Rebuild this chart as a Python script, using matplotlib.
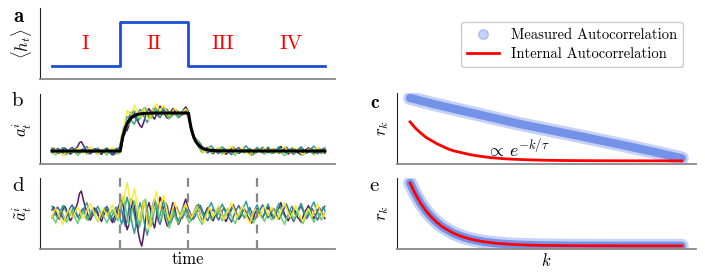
import numpy as np
import matplotlib
matplotlib.use("Agg")
import matplotlib.pyplot as plt
from matplotlib.lines import Line2D

plt.rcParams['font.family'] = 'serif'
plt.rcParams['font.serif'] = ['cmr10', 'DejaVu Serif']
plt.rcParams['mathtext.fontset'] = 'cm'
plt.rcParams['axes.unicode_minus'] = False

# panel a: input drive, four regions
step_t = [0.0, 0.25, 0.25, 0.5, 0.5, 1.0]
step_h = [0, 0, 1, 1, 0, 0]
region_names = ['I', 'II', 'III', 'IV']
region_pos = [0.12, 0.375, 0.625, 0.875]
region_edges = [0.25, 0.5, 0.75]

# panel b: mean activity (black)
mean_t = [0.0, 0.25, 0.255, 0.26, 0.265, 0.27, 0.275, 0.28, 0.29, 0.30, 0.31, 0.32, 0.34, 0.37, 0.5,
          0.505, 0.51, 0.515, 0.52, 0.525, 0.53, 0.54, 0.55, 0.56, 0.57, 0.59, 0.62, 1.0]
mean_a = [0.0, 0.0, 0.22, 0.40, 0.53, 0.64, 0.72, 0.78, 0.87, 0.92, 0.955, 0.975, 0.99, 1.0, 1.0,
          0.78, 0.60, 0.47, 0.36, 0.28, 0.22, 0.13, 0.08, 0.05, 0.03, 0.012, 0.004, 0.0]

# fluctuations of five units (x0.01), 150 time steps
fluct_purple = [10, 18, 5, -8, -15, -5, 12, 20, 8, -6, -20, -12, 4, 15, 30, 55, 62, 40, 20, 5, -10, -18, -5, 8, 14, 2, -12, -22, -8, 6,
                12, -4, -15, -25, -10, 5, 15, 25, 40, 18, -20, -45, -30, 10, 35, 20, -15, -50, -75, -90, -60, -20, 15, 30, 5, -25, -40, -10, 20, 45,
                30, 5, -20, -35, -15, 10, 30, 15, -10, -30, -20, 5, 25, 40, 20, -5, -15, -8, 10, 22, 12, -5, -18, -10, 6, 16, 4, -12, -20, -6,
                8, 18, 10, -4, -14, -22, -10, 6, 14, 24, 10, -6, -16, -8, 4, 12, 2, -10, -18, -26, -12, 4, 14, 8, -4, -12, 0, 10, 18, 6,
                -6, -14, -4, 8, 16, 30, 12, -2, -12, -20, -8, 6, 14, 4, -10, -16, -24, -10, 4, 12, 22, 10, -4, -14, -6, 8, 16, 4, -8, -14]
fluct_blue = [-12, -4, 8, 18, 10, -2, -14, -20, -8, 6, 16, 24, 12, 0, -10, -4, 8, 14, 2, -12, -18, -6, 6, 16, 8, -4, -14, -8, 4, 12,
              20, 8, -6, -16, -24, -10, 4, 30, 10, -15, -35, -20, 15, 40, 25, -5, -30, -45, -20, 10, 35, 20, -10, -30, -15, 15, 30, 10, -20, -30,
              -10, 15, 30, 20, -5, -25, -10, 10, 18, 6, -8, -14, -4, 10, 18, 8, -6, -16, -10, 4, 14, 22, 10, -2, -12, -20, -8, 6, 12, 2,
              -10, -18, -6, 8, 16, 6, -6, -14, -24, -10, 4, 14, 22, 10, -2, -10, -4, 8, 16, 4, -8, -16, -6, 6, 14, 24, 12, -2, -12, -4,
              6, 14, 4, -8, -16, -6, 6, 16, 26, 12, -2, -14, -22, -10, 2, 12, 20, 8, -4, -14, -6, 6, 14, 4, -8, -18, -8, 4, 12, 20]
fluct_teal = [20, 10, -4, -12, -2, 12, 22, 14, 2, -10, -4, 10, 18, 6, -8, -16, -6, 8, 20, 30, 14, 2, -8, -2, 10, 20, 8, -4, 6, 16,
              6, -6, -14, -4, 8, 18, 10, -10, -30, -10, 20, 45, 25, -5, -35, -55, -25, 5, 30, 15, -15, -40, -60, -35, 0, 25, 40, 15, -15, -5,
              20, 35, 10, -15, -30, -10, 15, 5, -12, -20, -6, 10, 22, 12, -2, -12, -20, -8, 6, 16, 26, 14, 0, -10, -2, 12, 20, 30, 16, 4,
              -6, 4, 16, 26, 12, 0, -10, -4, 10, 20, 8, -6, -14, -2, 10, 22, 34, 16, 2, -8, 2, 14, 24, 10, -4, -12, 0, 14, 26, 12,
              0, -10, 4, 18, 28, 14, 2, -8, -16, -4, 10, 20, 8, -4, 6, 18, 28, 14, 0, -10, -2, 10, 22, 32, 16, 4, -6, 6, 18, 8]
fluct_green = [-6, -16, -26, -12, 2, 10, -2, -14, -24, -12, 0, 8, -4, -16, -28, -14, -2, 6, -6, -18, -10, 2, 12, 0, -12, -22, -10, 2, -6, -16,
               -26, -12, 0, 10, 0, -12, -20, -5, 25, 45, 20, -10, -30, -15, 15, 35, 10, -20, -35, -10, 20, 40, 15, -15, -35, -20, 10, 30, 5, -20,
               -10, 10, -5, -25, -40, -20, 5, -8, -18, -28, -14, -2, 8, -4, -16, -26, -14, -2, 10, 0, -12, -22, -30, -16, -4, 6, -6, -18, -10, 2,
               12, 2, -10, -20, -8, 4, 14, 4, -8, -18, -28, -14, -2, 8, -4, -14, -6, 6, -4, -16, -26, -12, 0, 10, 0, -12, -22, -10, 2, -8,
               -18, -8, 4, 14, 2, -10, -20, -30, -16, -4, 6, -4, -16, -8, 4, -6, -18, -28, -14, -2, 8, -2, -14, -24, -10, 2, -6, -18, -8, 4]
fluct_yellow = [-10, 4, 14, 4, -8, -18, -30, -14, 0, 10, 2, -10, -4, 8, 18, 8, -4, -14, -6, 6, 16, 28, 14, 2, -10, -20, -8, 4, 14, 4,
                -8, 2, 14, 24, 10, -4, -12, 20, 50, 30, 60, 85, 55, 25, 45, 70, 40, 10, -20, 5, 35, 15, -25, -45, -15, 20, 40, 60, 35, 10,
                35, 50, 25, 0, -20, -5, 15, 30, 14, 2, -10, 4, 16, 26, 12, 0, -12, -4, 8, 20, 10, -4, -14, -24, -10, 4, 16, 6, -8, -2,
                10, 22, 8, -6, -16, -4, 8, 18, 30, 16, 2, -10, -2, 10, 20, 8, -6, -16, -28, -12, 2, 12, 4, -8, -2, 10, 20, 8, -4, 6,
                18, 8, -6, -16, -6, 6, 18, 30, 14, 0, -10, -2, 10, 22, 10, -2, -12, -22, -8, 4, 14, 4, -8, 2, 14, 26, 12, 0, -10, -2]
unit_colors = ['#440154', '#3b528b', '#21918c', '#5ec962', '#fde725']

# panels c, e: autocorrelation vs lag k
lags = [0, 1, 2, 3, 4, 5, 6, 7, 8, 9, 10, 11, 12, 13, 14, 15, 16, 17, 18, 19, 20, 22, 24, 26, 28, 30, 35, 40, 45, 50]
measured_c = [1.0, 0.98, 0.955, 0.935, 0.91, 0.89, 0.87, 0.85, 0.83, 0.81, 0.79, 0.77, 0.75, 0.73, 0.71, 0.69, 0.67, 0.65,
              0.63, 0.61, 0.59, 0.555, 0.52, 0.485, 0.45, 0.415, 0.325, 0.235, 0.14, 0.04]
internal_c = [0.62, 0.52, 0.44, 0.37, 0.32, 0.27, 0.23, 0.19, 0.16, 0.14, 0.12, 0.10, 0.085, 0.072, 0.06, 0.05, 0.043, 0.036,
              0.03, 0.026, 0.022, 0.016, 0.011, 0.008, 0.006, 0.004, 0.002, 0.001, 0.0, 0.0]
internal_e = [1.0, 0.82, 0.67, 0.55, 0.45, 0.37, 0.30, 0.25, 0.20, 0.165, 0.135, 0.11, 0.09, 0.074, 0.06, 0.05, 0.04, 0.033,
              0.027, 0.022, 0.018, 0.012, 0.008, 0.006, 0.004, 0.002, 0.001, 0.0, 0.0, 0.0]
measured_e = internal_e

W, H = 705, 280
fig = plt.figure(figsize=(W / 100, H / 100), dpi=100)

def box(l, r, t, b):
    return [l / W, 1 - b / H, (r - l) / W, (b - t) / H]

ax_a = fig.add_axes(box(40, 335, 8, 79))
ax_b = fig.add_axes(box(40, 335, 94, 164))
ax_d = fig.add_axes(box(40, 335, 178, 249))
ax_c = fig.add_axes(box(397, 696, 93, 164))
ax_e = fig.add_axes(box(397, 696, 178, 249))

for ax in [ax_a, ax_b, ax_c, ax_d, ax_e]:
    for s in ['top', 'right']:
        ax.spines[s].set_visible(False)
    ax.spines['left'].set_color('#222222')
    ax.spines['left'].set_linewidth(0.8)
    ax.spines['bottom'].set_color('#888888')
    ax.spines['bottom'].set_linewidth(1.3)
    ax.set_xticks([])
    ax.set_yticks([])

# a
ax_a.plot(step_t, step_h, color='#1a4fd6', lw=2)
for name, x in zip(region_names, region_pos):
    ax_a.text(x, 0.5, name, color='red', fontsize=15, ha='center', va='center')
ax_a.set_xlim(-0.044, 1.037)
ax_a.set_ylim(-0.3, 1.32)
ax_a.set_ylabel(r'$\langle h_t\rangle$', fontsize=12, labelpad=4)

# b and d
n = len(fluct_purple)
t = np.linspace(0, 1, n)
mean_on_grid = np.interp(t, mean_t, mean_a)
traces = [fluct_purple, fluct_blue, fluct_teal, fluct_green, fluct_yellow]
for f, c in zip(traces, unit_colors):
    f = np.array(f) / 100
    ax_b.plot(t, mean_on_grid + 0.4 * f, color=c, lw=1.1, alpha=0.9)
    ax_d.plot(t, f, color=c, lw=1.1, alpha=0.9)
ax_b.plot(mean_t, mean_a, color='black', lw=2.2)
ax_b.set_xlim(-0.044, 1.037)
ax_b.set_ylim(-0.34, 1.5)
ax_b.set_ylabel(r'$a_t^i$', fontsize=12, labelpad=4)

for x in region_edges:
    ax_d.axvline(x, color='#888888', ls='--', lw=1.6, dashes=(4, 3))
ax_d.set_xlim(-0.044, 1.037)
ax_d.set_ylim(-0.98, 0.98)
ax_d.set_ylabel(r'$\tilde{a}_t^i$', fontsize=12, labelpad=4)
ax_d.set_xlabel('time', fontsize=12, labelpad=2)

# c and e
for ax, meas, intern in [(ax_c, measured_c, internal_c), (ax_e, measured_e, internal_e)]:
    ax.plot(lags, meas, color='royalblue', lw=10, alpha=0.3, solid_capstyle='round')
    ax.plot(lags, meas, color='royalblue', lw=6, alpha=0.6, solid_capstyle='round')
    ax.plot(lags, intern, color='red', lw=2)
    ax.set_xlim(-2.4, 52.6)
    ax.set_ylim(-0.05, 1.08)
    ax.set_ylabel(r'$r_k$', fontsize=12, labelpad=4)
ax_c.text(14, 0.2, r'$\propto\, e^{-k/\tau}$', fontsize=13, ha='left', va='center')
ax_e.set_xlabel(r'$k$', fontsize=12, labelpad=2)

# panel letters
fig.text(13 / W, 1 - 17 / H, r'$\mathbf{a}$', fontsize=15, ha='left', va='center')
fig.text(370 / W, 1 - 103 / H, r'$\mathbf{c}$', fontsize=14, ha='left', va='center')
fig.text(12 / W, 1 - 101 / H, 'b', fontsize=15, ha='left', va='center')
fig.text(12 / W, 1 - 186 / H, 'd', fontsize=15, ha='left', va='center')
fig.text(369 / W, 1 - 186 / H, 'e', fontsize=15, ha='left', va='center')

handles = [Line2D([], [], marker='o', ls='none', color='royalblue', alpha=0.3, markersize=7),
           Line2D([], [], color='red', lw=2)]
fig.legend(handles, ['Measured Autocorrelation', 'Internal Autocorrelation'],
           loc='upper right', bbox_to_anchor=(690 / W, 1 - 15 / H), fontsize=10.5,
           frameon=True, fancybox=True, edgecolor='#cccccc', framealpha=1,
           handlelength=2.2, borderpad=0.4, labelspacing=0.35)

fig.savefig('out.png', dpi=100)
